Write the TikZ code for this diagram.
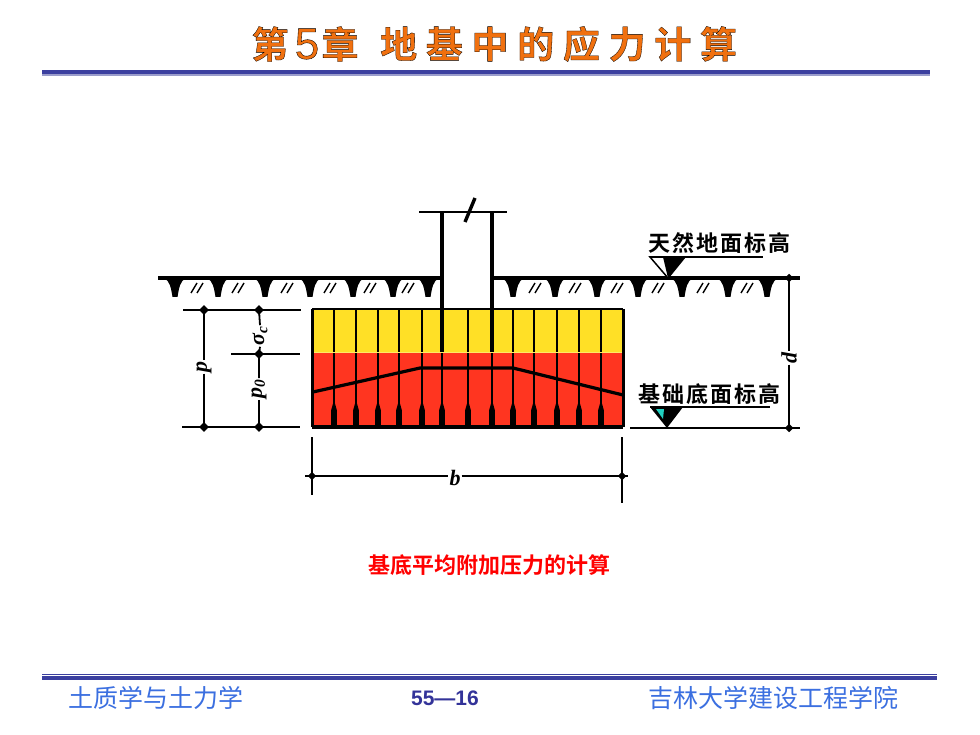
\documentclass[tikz,border=0pt]{standalone}
\usepackage{fontspec}
\setmainfont{Liberation Sans}
\newfontfamily\cjk{Noto Sans CJK SC}
\newfontfamily\cjkb{Noto Sans CJK SC Bold}
\newfontfamily\cjktitle[FakeBold=0.8,LetterSpace=23.5]{Noto Sans CJK SC Bold}
\newfontfamily\latitle[FakeBold=0.8]{Liberation Sans}
\newfontfamily\cjkwide[LetterSpace=9]{Noto Sans CJK SC Bold}
\newfontfamily\dimfont{Liberation Serif}
\definecolor{navy}{HTML}{3B3F9F}
\definecolor{navylight}{HTML}{9A9CCB}
\definecolor{foot}{HTML}{3B6FE0}
\definecolor{numc}{HTML}{333399}
\definecolor{ttl}{HTML}{F0700F}
\definecolor{yel}{HTML}{FFE026}
\definecolor{redf}{HTML}{FF3520}
\definecolor{tealf}{HTML}{20D0C0}
\newcommand{\ttlfill}{\color{ttl}\special{pdf:code 0 0 0 RG}}
\tikzset{
  rulethick/.style={navy,line width=4pt},
  rulethin/.style={navylight,line width=2pt},
  ink/.style={black,line width=2.4pt},
  wall/.style={black,line width=4.4pt},
  dim/.style={black,line width=1.8pt},
  lbl/.style={inner sep=1pt,font=\dimfont\bfseries\itshape\fontsize{22}{22}\selectfont,rotate=90},
  tag/.style={inner sep=0pt,anchor=west,font=\cjkwide\fontsize{22}{22}\selectfont},
  foottxt/.style={inner sep=0pt,text=foot,font=\cjk\fontsize{25}{25}\selectfont},
  ttlcjk/.style={inner sep=0pt,font=\cjktitle\fontsize{37}{37}\selectfont},
}
\begin{document}
\begin{tikzpicture}[x=1pt,y=-1pt]
\useasboundingbox (0,0) rectangle (980,735);
% title
\node[ttlcjk] (t1c) at (270,44) {\ttlfill 第};
\node[inner sep=0pt,font=\latitle\fontsize{44}{44}\selectfont] (t5) at (307,44) {\ttlfill 5};
\node[ttlcjk] (t3c) at (340,44) {\ttlfill 章};
\node[ttlcjk,anchor=west] (t4c) at (380,44) {\ttlfill 地基中的应力计算};
\draw[rulethin] (42,75) -- (930,75);
\draw[rulethick] (42,72) -- (930,72);
% block
\fill[yel] (312,309) rectangle (623,352);
\fill[redf] (312,352) rectangle (623,427);
\foreach \x in {334,356,378,399,422,442,468,492,513,534,557,579,601}{
  \draw[ink] (\x,309) -- (\x,427);
  \fill (\x-2.8,410) -- (\x,400) -- (\x+2.8,410) -- (\x+2.8,427) -- (\x-2.8,427) -- cycle;
}
\draw[yel!70!white,line width=1pt] (312,352) -- (623,352);
\draw[black,line width=2.6pt] (312,309) -- (623,309);
\draw[black,line width=3.4pt] (312,427) -- (623,427);
\draw[black,line width=3pt] (312,309) -- (312,427);
\draw[black,line width=3pt] (623,309) -- (623,427);
\draw[black,line width=3.2pt,line join=round] (313,392) -- (420,368) -- (513,368) -- (623,395);
% column
\draw[wall] (442,212) -- (442,352);
\draw[wall] (492,212) -- (492,352);
\draw[black,line width=2pt] (419,212) -- (507,212);
\draw[black,line width=3.4pt] (465,222) -- (475,198);
% ground
\draw[black,line width=4pt] (158,278) -- (442,278);
\draw[black,line width=4pt] (492,278) -- (800,278);
\foreach \x in {175,218,265,310,353,393,428,513,555,597,638,682,728,767}{
  \fill (\x-11,278) .. controls (\x-5,281) and (\x-4,288) .. (\x-2.5,297)
        -- (\x+2.5,297) .. controls (\x+4,288) and (\x+5,281) .. (\x+11,278) -- cycle;
}
\foreach \x in {197,238,287,330,370,408,535,575,617,658,703,747}{
  \draw[black,line width=1.4pt] (\x-6,293) -- (\x,283);
  \draw[black,line width=1.4pt] (\x,293) -- (\x+6,283);
}
% left dimensions
\draw[dim] (183,310) -- (301,310);
\draw[dim] (231,354) -- (300,354);
\draw[dim] (182,427) -- (300,427);
\node[lbl] (lp) at (204,367) {p};
\node[lbl] (lsig) at (260,336) {σ\textsubscript{c}};
\node[lbl] (lp0) at (259,389) {p\textsubscript{0}};
\draw[dim] (204,310) -- (lp.east);
\draw[dim] (lp.west) -- (204,427);
\draw[dim] (259,310) -- (lsig.east);
\draw[dim] (lsig.west) -- (259,354) -- (lp0.east);
\draw[dim] (lp0.west) -- (259,427);
\foreach \x/\y in {204/310,259/310,259/354,204/427,259/427}{
  \fill[rotate around={45:(\x,\y)}] (\x-3.5,\y-3.5) rectangle (\x+3.5,\y+3.5);
}
% b dimension
\node[inner sep=1pt,font=\dimfont\bfseries\itshape\fontsize{22}{22}\selectfont] (lb) at (455,478) {b};
\coordinate (bl) at (305,476);
\coordinate (br) at (628,476);
\draw[dim] (bl) -- (bl -| lb.west);
\draw[dim] (br -| lb.east) -- (br);
\draw[dim] (312,437) -- (312,495);
\draw[dim] (622,437) -- (622,503);
\fill[rotate around={45:(312,476)}] (309,473) rectangle (315,479);
\fill[rotate around={45:(622,476)}] (619,473) rectangle (625,479);
% right dimension
\node[lbl] (ld) at (789,358) {d};
\draw[dim] (789,278) -- (ld.east);
\draw[dim] (ld.west) -- (789,428);
\draw[black,line width=2pt] (630,428) -- (800,428);
\fill[rotate around={45:(789,278)}] (786,275) rectangle (792,281);
\fill[rotate around={45:(789,428)}] (786,425) rectangle (792,431);
% level marks
\node[tag] (t1) at (648,243) {天然地面标高};
\node[tag] (t2) at (638,394) {基础底面标高};
\draw[black,line width=1.5pt,fill=white] (650,257) -- (685,257) -- (668,278) -- cycle;
\fill (663,257) -- (685,257) -- (668,278) -- cycle;
\draw[black,line width=1.8pt] (650,257) -- (763,257);
\fill (650,407) -- (683,407) -- (667,428) -- cycle;
\fill[tealf] (656,409) -- (664,409) -- (663,419) -- cycle;
\draw[black,line width=1.8pt] (650,407) -- (770,407);
% caption
\node[inner sep=0pt,text=red,font=\cjkb\fontsize{22}{22}\selectfont] (cap) at (489,565) {基底平均附加压力的计算};
% footer
\draw[navy,line width=1pt] (42,674) -- (937,674);
\draw[rulethick] (42,678) -- (937,678);
\node[foottxt] (f1) at (155.5,698) {土质学与土力学};
\node[inner sep=0pt,text=numc,font=\bfseries\fontsize{21}{21}\selectfont] (f2) at (445,698) {55—16};
\node[foottxt] (f3) at (773,698) {吉林大学建设工程学院};
\end{tikzpicture}
\end{document}
